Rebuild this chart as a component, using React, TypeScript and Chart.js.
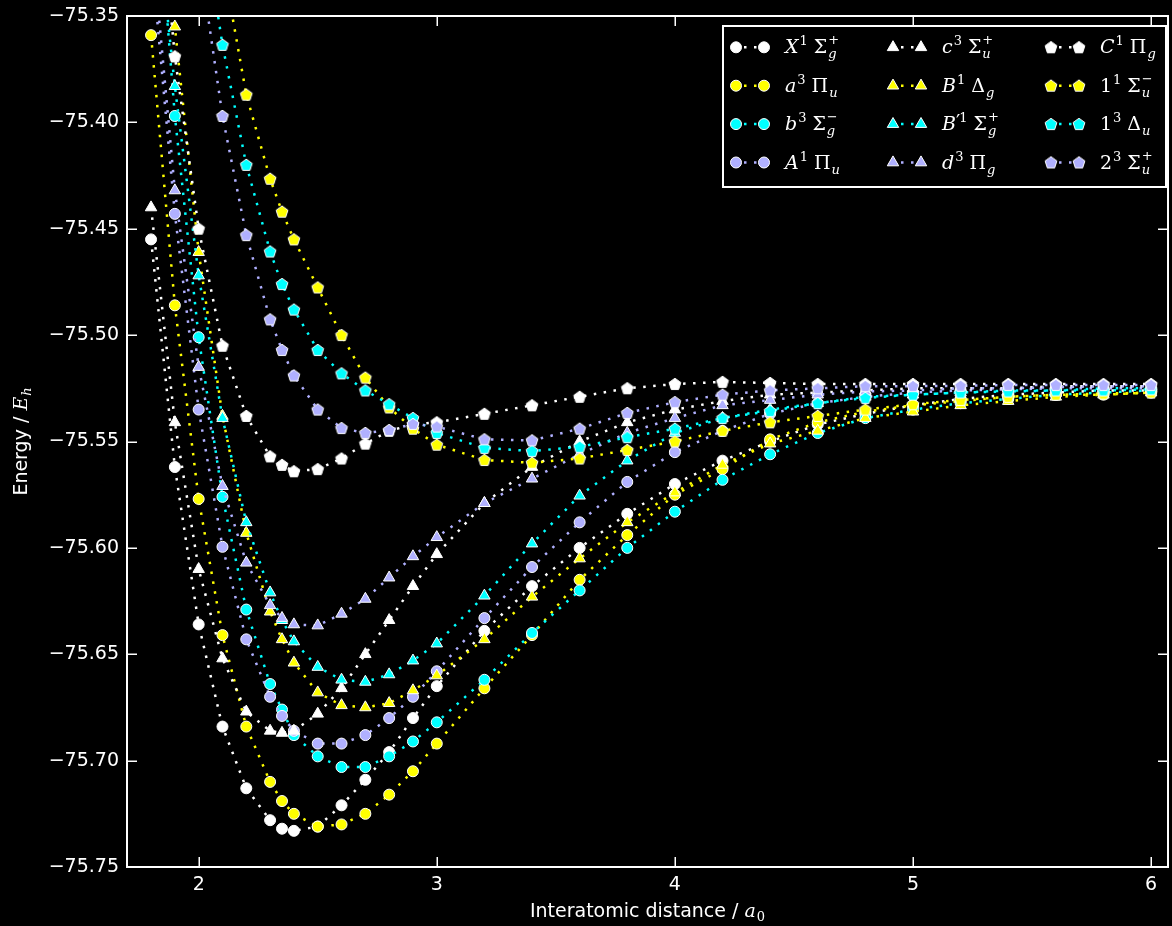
import React, { useEffect, useRef } from 'react';
import { Chart, registerables } from 'chart.js';

Chart.register(...registerables);

// ---------- data ----------
const distance = [1.8, 1.9, 2.0, 2.1, 2.2, 2.3, 2.35, 2.4, 2.5, 2.6, 2.7, 2.8, 2.9, 3.0, 3.2, 3.4, 3.6, 3.8, 4.0, 4.2, 4.4, 4.6, 4.8, 5.0, 5.2, 5.4, 5.6, 5.8, 6.0];

const xTickValues = [2, 3, 4, 5, 6];
const yTickValues = [-75.75, -75.7, -75.65, -75.6, -75.55, -75.5, -75.45, -75.4, -75.35];

const X1Sg = [-75.455, -75.562, -75.636, -75.684, -75.713, -75.728, -75.732, -75.733, -75.731, -75.721, -75.709, -75.696, -75.680, -75.665, -75.639, -75.618, -75.600, -75.584, -75.570, -75.559, -75.550, -75.542, -75.537, -75.533, -75.530, -75.528, -75.527, -75.526, -75.526];
const a3Pu = [-75.359, -75.486, -75.577, -75.641, -75.684, -75.710, -75.719, -75.725, -75.731, -75.730, -75.725, -75.716, -75.705, -75.692, -75.666, -75.641, -75.615, -75.594, -75.575, -75.563, -75.549, -75.541, -75.536, -75.533, -75.531, -75.529, -75.528, -75.528, -75.527];
const b3Sg = [-75.255, -75.397, -75.501, -75.576, -75.629, -75.664, -75.676, -75.688, -75.698, -75.703, -75.703, -75.698, -75.691, -75.682, -75.662, -75.640, -75.620, -75.600, -75.583, -75.568, -75.556, -75.546, -75.539, -75.535, -75.532, -75.530, -75.528, -75.527, -75.526];
const A1Pu = [-75.320, -75.443, -75.535, -75.5995, -75.643, -75.670, -75.679, -75.686, -75.692, -75.692, -75.688, -75.680, -75.670, -75.658, -75.633, -75.609, -75.588, -75.569, -75.555, -75.545, -75.537, -75.532, -75.529, -75.527, -75.526, -75.5255, -75.525, -75.525, -75.525];
const c3Su = [-75.440, -75.541, -75.610, -75.652, -75.677, -75.686, -75.687, -75.686, -75.678, -75.666, -75.650, -75.634, -75.618, -75.603, -75.579, -75.562, -75.550, -75.541, -75.535, -75.531, -75.528, -75.527, -75.526, -75.525, -75.525, -75.525, -75.524, -75.524, -75.524];
const B1Dg = [-75.260, -75.355, -75.461, -75.538, -75.593, -75.630, -75.643, -75.654, -75.668, -75.674, -75.675, -75.673, -75.667, -75.660, -75.643, -75.623, -75.605, -75.588, -75.574, -75.561, -75.551, -75.545, -75.539, -75.536, -75.533, -75.531, -75.529, -75.528, -75.527];
const Bp1Sg = [-75.277, -75.383, -75.472, -75.539, -75.588, -75.621, -75.634, -75.644, -75.656, -75.662, -75.663, -75.6595, -75.653, -75.645, -75.6225, -75.598, -75.5755, -75.559, -75.546, -75.539, -75.535, -75.532, -75.529, -75.528, -75.527, -75.526, -75.526, -75.525, -75.525];
const d3Pg = [-75.310, -75.432, -75.515, -75.571, -75.607, -75.627, -75.633, -75.636, -75.6365, -75.631, -75.624, -75.614, -75.604, -75.595, -75.579, -75.5675, -75.556, -75.546, -75.539, -75.533, -75.5305, -75.528, -75.5265, -75.526, -75.525, -75.525, -75.5245, -75.524, -75.524];
const C1Pg = [-75.250, -75.369, -75.450, -75.505, -75.538, -75.557, -75.561, -75.564, -75.563, -75.558, -75.551, -75.545, -75.542, -75.541, -75.537, -75.533, -75.529, -75.525, -75.523, -75.522, -75.5225, -75.523, -75.523, -75.523, -75.523, -75.523, -75.523, -75.523, -75.523];
const s11Su = [null, null, -75.240, -75.324, -75.387, -75.4265, -75.442, -75.455, -75.4776, -75.500, -75.520, -75.534, -75.544, -75.5515, -75.5587, -75.560, -75.558, -75.554, -75.550, -75.545, -75.541, -75.538, -75.535, -75.5325, -75.5305, -75.529, -75.528, -75.5275, -75.527];
const s13Du = [null, null, -75.290, -75.3636, -75.420, -75.4607, -75.476, -75.488, -75.507, -75.518, -75.526, -75.5325, -75.539, -75.546, -75.553, -75.5545, -75.5525, -75.548, -75.544, -75.539, -75.5357, -75.532, -75.5295, -75.528, -75.527, -75.5265, -75.526, -75.526, -75.5255];
const s23Su = [null, null, -75.320, -75.397, -75.453, -75.4926, -75.507, -75.519, -75.535, -75.5437, -75.546, -75.5446, -75.5418, -75.543, -75.549, -75.5495, -75.544, -75.5366, -75.5315, -75.528, -75.526, -75.525, -75.524, -75.524, -75.5238, -75.5235, -75.5235, -75.5235, -75.5235];

const seriesValues = [X1Sg, a3Pu, b3Sg, A1Pu, c3Su, B1Dg, Bp1Sg, d3Pg, C1Pg, s11Su, s13Du, s23Su];
const seriesNames = ['X1Σg+', 'a3Πu', 'b3Σg−', 'A1Πu', 'c3Σu+', 'B1Δg', "B'1Σg+", 'd3Πg', 'C1Πg', '11Σu−', '13Δu', '23Σu+'];
const seriesColors = ['#ffffff', '#ffff00', '#00ffff', '#b0b0ff', '#ffffff', '#ffff00', '#00ffff', '#b0b0ff', '#ffffff', '#ffff00', '#00ffff', '#b0b0ff'];
const seriesMarkers = ['circle', 'circle', 'circle', 'circle', 'triangle', 'triangle', 'triangle', 'triangle', 'pentagon', 'pentagon', 'pentagon', 'pentagon'];

// legend labels (term symbols)
const legendLabels = [
  { base: 'X', prime: '', mult: '1', sym: 'Σ', sub: 'g', sup: '+' },
  { base: 'a', prime: '', mult: '3', sym: 'Π', sub: 'u', sup: '' },
  { base: 'b', prime: '', mult: '3', sym: 'Σ', sub: 'g', sup: '−' },
  { base: 'A', prime: '', mult: '1', sym: 'Π', sub: 'u', sup: '' },
  { base: 'c', prime: '', mult: '3', sym: 'Σ', sub: 'u', sup: '+' },
  { base: 'B', prime: '', mult: '1', sym: 'Δ', sub: 'g', sup: '' },
  { base: 'B', prime: '′', mult: '1', sym: 'Σ', sub: 'g', sup: '+' },
  { base: 'd', prime: '', mult: '3', sym: 'Π', sub: 'g', sup: '' },
  { base: 'C', prime: '', mult: '1', sym: 'Π', sub: 'g', sup: '' },
  { base: '1', prime: '', mult: '1', sym: 'Σ', sub: 'u', sup: '−' },
  { base: '1', prime: '', mult: '3', sym: 'Δ', sub: 'u', sup: '' },
  { base: '2', prime: '', mult: '3', sym: 'Σ', sub: 'u', sup: '+' },
];

const W = 1172;
const H = 926;
const AREA = { left: 127, right: 1168, top: 16, bottom: 867 };

function makePentagon(color: string): HTMLCanvasElement {
  const c = document.createElement('canvas');
  c.width = 16;
  c.height = 16;
  const g = c.getContext('2d')!;
  g.beginPath();
  const r = 6.2;
  for (let k = 0; k < 5; k++) {
    const ang = -Math.PI / 2 + (k * 2 * Math.PI) / 5;
    const px = 8 + r * Math.cos(ang);
    const py = 8.4 + r * Math.sin(ang);
    if (k === 0) g.moveTo(px, py);
    else g.lineTo(px, py);
  }
  g.closePath();
  g.fillStyle = color;
  g.fill();
  g.strokeStyle = '#ffffff';
  g.lineWidth = 1;
  g.stroke();
  return c;
}

function drawMarker(ctx: CanvasRenderingContext2D, type: string, x: number, y: number, color: string, img: HTMLCanvasElement | null) {
  ctx.save();
  ctx.setLineDash([]);
  if (type === 'pentagon' && img) {
    ctx.drawImage(img, x - img.width / 2, y - img.height / 2);
  } else {
    ctx.beginPath();
    if (type === 'circle') {
      ctx.arc(x, y, 5.5, 0, Math.PI * 2);
    } else {
      const r = 6.6;
      for (let k = 0; k < 3; k++) {
        const ang = -Math.PI / 2 + (k * 2 * Math.PI) / 3;
        const px = x + r * Math.cos(ang);
        const py = y + r * Math.sin(ang);
        if (k === 0) ctx.moveTo(px, py);
        else ctx.lineTo(px, py);
      }
      ctx.closePath();
    }
    ctx.fillStyle = color;
    ctx.fill();
    ctx.strokeStyle = '#ffffff';
    ctx.lineWidth = 1;
    ctx.stroke();
  }
  ctx.restore();
}

function drawTerm(ctx: CanvasRenderingContext2D, x0: number, yBase: number, spec: any) {
  const big = 19;
  const small = 13;
  const fam = '"DejaVu Serif"';
  let x = x0;
  ctx.fillStyle = '#ffffff';
  ctx.textAlign = 'left';
  ctx.textBaseline = 'alphabetic';
  const isLetter = /[A-Za-z]/.test(spec.base);
  ctx.font = `${isLetter ? 'italic ' : ''}${big}px ${fam}`;
  ctx.fillText(spec.base, x, yBase);
  x += ctx.measureText(spec.base).width + 1;
  if (spec.prime) {
    ctx.font = `${big}px ${fam}`;
    ctx.fillText(spec.prime, x - 1, yBase - 2);
    x += ctx.measureText(spec.prime).width - 2;
  }
  ctx.font = `${small}px ${fam}`;
  ctx.fillText(spec.mult, x, yBase - 8);
  x += ctx.measureText(spec.mult).width + 6;
  ctx.font = `${big}px ${fam}`;
  ctx.fillText(spec.sym, x, yBase);
  x += ctx.measureText(spec.sym).width + 1;
  ctx.font = `italic ${small}px ${fam}`;
  ctx.fillText(spec.sub, x, yBase + 5);
  if (spec.sup) {
    ctx.font = `${small}px ${fam}`;
    ctx.fillText(spec.sup, x, yBase - 9);
  }
}

function drawLabelParts(ctx: CanvasRenderingContext2D, cx: number, cy: number, text: string, italicPart: string, subPart: string) {
  const fs = 19;
  ctx.textBaseline = 'middle';
  ctx.textAlign = 'left';
  ctx.fillStyle = '#ffffff';
  ctx.font = `${fs}px "DejaVu Sans"`;
  const w1 = ctx.measureText(text).width;
  ctx.font = `italic ${fs}px "DejaVu Serif"`;
  const w2 = ctx.measureText(italicPart).width;
  ctx.font = `italic 13px "DejaVu Serif"`;
  const w3 = ctx.measureText(subPart).width;
  let x = cx - (w1 + w2 + w3 + 1) / 2;
  ctx.font = `${fs}px "DejaVu Sans"`;
  ctx.fillText(text, x, cy);
  x += w1;
  ctx.font = `italic ${fs}px "DejaVu Serif"`;
  ctx.fillText(italicPart, x, cy);
  x += w2 + 1;
  ctx.font = /[0-9]/.test(subPart) ? `13px "DejaVu Serif"` : `italic 13px "DejaVu Serif"`;
  ctx.fillText(subPart, x, cy + 6);
}

export default function App() {
  const ref = useRef<HTMLCanvasElement | null>(null);

  useEffect(() => {
    if (!ref.current) return;
    const pentagons: Record<string, HTMLCanvasElement> = {};
    seriesColors.forEach((c) => {
      if (!pentagons[c]) pentagons[c] = makePentagon(c);
    });

    const datasets = seriesValues.map((vals, i) => {
      const pts = distance
        .map((x, k) => ({ x, y: vals[k] }))
        .filter((p) => p.y !== null && p.y !== undefined) as { x: number; y: number }[];
      const marker = seriesMarkers[i];
      return {
        label: seriesNames[i],
        data: pts,
        borderColor: seriesColors[i],
        backgroundColor: seriesColors[i],
        borderWidth: 2.5,
        borderDash: [2.5, 7.5],
        borderCapStyle: 'butt' as const,
        tension: 0,
        pointStyle: marker === 'pentagon' ? pentagons[seriesColors[i]] : marker,
        pointRadius: marker === 'triangle' ? 6.6 : 5.5,
        pointBackgroundColor: seriesColors[i],
        pointBorderColor: '#ffffff',
        pointBorderWidth: 1,
        order: 100 - i,
      };
    });

    const areaPlugin = {
      id: 'fixArea',
      afterLayout(chart: any) {
        const ca = chart.chartArea;
        ca.left = AREA.left;
        ca.right = AREA.right;
        ca.top = AREA.top;
        ca.bottom = AREA.bottom;
        ca.width = AREA.right - AREA.left;
        ca.height = AREA.bottom - AREA.top;
        const xs = chart.scales.x;
        xs.left = AREA.left;
        xs.right = AREA.right;
        xs.width = AREA.right - AREA.left;
        xs.top = AREA.bottom;
        xs.configure();
        const ys = chart.scales.y;
        ys.top = AREA.top;
        ys.bottom = AREA.bottom;
        ys.height = AREA.bottom - AREA.top;
        ys.left = 0;
        ys.right = AREA.left;
        ys.configure();
      },
    };

    const framePlugin = {
      id: 'frame',
      afterDatasetsDraw(chart: any) {
        const ctx = chart.ctx as CanvasRenderingContext2D;
        const a = chart.chartArea;
        const xs = chart.scales.x;
        const ys = chart.scales.y;
        ctx.save();
        ctx.setLineDash([]);
        ctx.strokeStyle = '#ffffff';
        ctx.lineWidth = 1.5;
        ctx.beginPath();
        xTickValues.forEach((v) => {
          const p = Math.round(xs.getPixelForValue(v)) + 0.25;
          ctx.moveTo(p, a.bottom);
          ctx.lineTo(p, a.bottom - 10);
          ctx.moveTo(p, a.top);
          ctx.lineTo(p, a.top + 10);
        });
        yTickValues.forEach((v) => {
          const p = Math.round(ys.getPixelForValue(v)) + 0.25;
          ctx.moveTo(a.left, p);
          ctx.lineTo(a.left + 10, p);
          ctx.moveTo(a.right, p);
          ctx.lineTo(a.right - 10, p);
        });
        ctx.stroke();
        ctx.lineWidth = 2;
        ctx.strokeRect(a.left, a.top, a.right - a.left, a.bottom - a.top);
        ctx.restore();
      },
      afterDraw(chart: any) {
        const ctx = chart.ctx as CanvasRenderingContext2D;
        const a = chart.chartArea;
        ctx.save();
        // axis titles
        drawLabelParts(ctx, (a.left + a.right) / 2, 912, 'Interatomic distance / ', 'a', '0');
        ctx.save();
        ctx.translate(22, (a.top + a.bottom) / 2);
        ctx.rotate(-Math.PI / 2);
        drawLabelParts(ctx, 0, 0, 'Energy / ', 'E', 'h');
        ctx.restore();

        // legend
        const lx = 723, ly = 26, lw = 443, lh = 161;
        ctx.fillStyle = '#000000';
        ctx.fillRect(lx, ly, lw, lh);
        ctx.strokeStyle = '#ffffff';
        ctx.lineWidth = 2;
        ctx.setLineDash([]);
        ctx.strokeRect(lx, ly, lw, lh);
        const colMarker = [736, 893, 1051];
        const colText = [785, 942, 1100];
        for (let i = 0; i < seriesNames.length; i++) {
          const col = Math.floor(i / 4);
          const row = i % 4;
          const cy = 47.3 + row * 38.4;
          const m1 = colMarker[col];
          const m2 = m1 + 28;
          const color = seriesColors[i];
          ctx.save();
          ctx.strokeStyle = color;
          ctx.lineWidth = 2.5;
          ctx.setLineDash([2.5, 7.5]);
          ctx.lineDashOffset = -8;
          ctx.beginPath();
          ctx.moveTo(m1, cy);
          ctx.lineTo(m2, cy);
          ctx.stroke();
          ctx.restore();
          const img = seriesMarkers[i] === 'pentagon' ? pentagons[color] : null;
          drawMarker(ctx, seriesMarkers[i], m1, cy, color, img);
          drawMarker(ctx, seriesMarkers[i], m2, cy, color, img);
          drawTerm(ctx, colText[col], cy + 6, legendLabels[i]);
        }
        ctx.restore();
      },
    };

    const chart = new Chart(ref.current, {
      type: 'line',
      data: { datasets: datasets as any },
      options: {
        animation: false,
        responsive: false,
        events: [],
        layout: { padding: { top: AREA.top, right: W - AREA.right, left: 0, bottom: 0 } },
        plugins: {
          legend: { display: false },
          tooltip: { enabled: false },
        },
        scales: {
          x: {
            type: 'linear',
            min: 1.699,
            max: 6.071,
            afterBuildTicks: (s: any) => {
              s.ticks = xTickValues.map((v) => ({ value: v }));
            },
            afterFit: (s: any) => {
              s.height = H - AREA.bottom;
            },
            grid: { display: false, drawTicks: false },
            border: { display: false },
            ticks: {
              color: '#ffffff',
              font: { family: 'DejaVu Sans', size: 19 },
              padding: 7,
              maxRotation: 0,
              autoSkip: false,
              callback: (v: any) => String(v),
            },
          },
          y: {
            type: 'linear',
            min: -75.75,
            max: -75.35,
            afterBuildTicks: (s: any) => {
              s.ticks = yTickValues.map((v) => ({ value: v }));
            },
            afterFit: (s: any) => {
              s.width = AREA.left;
            },
            grid: { display: false, drawTicks: false },
            border: { display: false },
            ticks: {
              color: '#ffffff',
              font: { family: 'DejaVu Sans', size: 19 },
              padding: 8,
              autoSkip: false,
              callback: (v: any) => Number(v).toFixed(2).replace('-', '\u2212'),
            },
          },
        },
      },
      plugins: [areaPlugin, framePlugin],
    });
    return () => chart.destroy();
  }, []);

  return (
    <div style={{ position: 'absolute', left: 0, top: 0, width: W, height: H, background: '#000000', overflow: 'hidden' }}>
      <canvas ref={ref} width={W} height={H} style={{ display: 'block' }} />
    </div>
  );
}
